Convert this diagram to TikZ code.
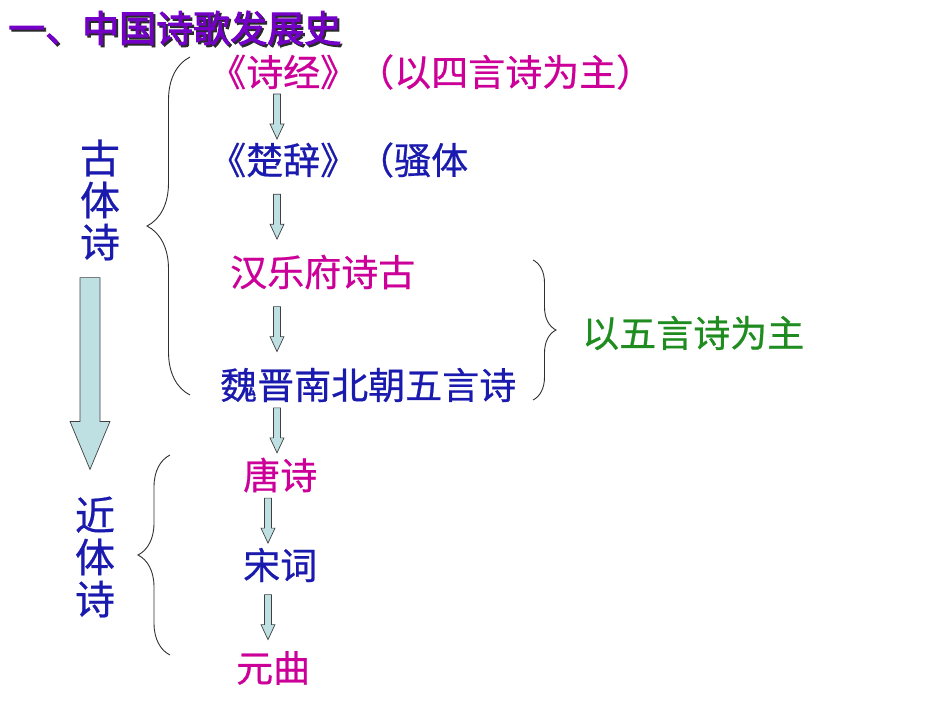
\documentclass[tikz,border=0pt]{standalone}
\usepackage{xcolor}
\usepackage{fontspec}
\usepackage{tikz}
\usetikzlibrary{calc,decorations.pathreplacing}
\newfontfamily\cjk[FakeBold=0.6]{Noto Sans CJK SC}
\newfontfamily\cjkbold[FakeBold=2.5]{Noto Sans CJK SC}
\definecolor{poemPink}{HTML}{CC0099}
\definecolor{poemBlue}{HTML}{1A1AAE}
\definecolor{poemGreen}{HTML}{1E8C1E}
\definecolor{titlePurple}{HTML}{7400C8}
\definecolor{titleShade}{HTML}{2A2A2A}
\definecolor{arrowFill}{HTML}{BEE0E2}
\definecolor{arrowLine}{HTML}{404040}
\definecolor{braceGray}{HTML}{303030}

\tikzset{
  poem/.style={font=\cjk\fontsize{37}{40}\selectfont, anchor=west, inner sep=2pt},
  hong/.style={poem, text=poemPink},
  lan/.style={poem, text=poemBlue},
  lv/.style={poem, text=poemGreen},
  shu/.style={font=\cjk\fontsize{40}{42}\selectfont, text=poemBlue, align=center, inner sep=0pt},
  biaoti/.style={font=\cjkbold\fontsize{37}{40}\selectfont, anchor=west, inner sep=0pt},
  jiantou/.style={fill=arrowFill, draw=arrowLine, line width=0.7pt, line join=miter},
  kuohao/.style={decorate, decoration={brace, amplitude=#1}, draw=braceGray, line width=0.9pt},
  kuohao/.default=30pt
}

% block arrow: top point, tip point, half shaft, half head, head length
\newcommand{\blockarrow}[5]{%
  \path[jiantou] ($#1+(-#3,0)$) -- ($#2+(-#3,-#5)$) -- ($#2+(-#4,-#5)$) -- #2
    -- ($#2+(#4,-#5)$) -- ($#2+(#3,-#5)$) -- ($#1+(#3,0)$) -- cycle;}
% small arrow between two lines of text, in column #3
\newcommand{\flowarrow}[3]{%
  \coordinate (fmid) at ($(#1.south)!0.5!(#2.north)$);
  \coordinate (ftop) at ($(fmid -| #3)+(0,-22)$);
  \coordinate (ftip) at ($(fmid -| #3)+(0,23)$);
  \blockarrow{(ftop)}{(ftip)}{3.5}{7}{15}}

\begin{document}
\begin{tikzpicture}[x=1pt,y=-1pt]
  \useasboundingbox (0,0) rectangle (950,713);

  % title
  \node[biaoti, text=titleShade] (titleshade) at (10,30) {一、中国诗歌发展史};
  \node[biaoti, text=titlePurple] (title) at (8,28) {一、中国诗歌发展史};

  % the lines
  \node[hong] (shijing) at (207,72) {《诗经》（以四言诗为主）};
  \node[lan] (chuci) at (207,160) {《楚辞》（骚体};
  \node[hong] (yuefu) at (228,272) {汉乐府诗古};
  \node[lan] (weijin) at (218,385) {魏晋南北朝五言诗};
  \node[hong] (tang) at (241,475) {唐诗};
  \node[lan] (song) at (241,565) {宋词};
  \node[hong] (yuan) at (234,668) {元曲};
  \node[lv] (wuyan) at (580,333) {以五言诗为主};

  \node[shu] (gu) at (100,200) {古\\体\\诗};
  \node[shu] (jin) at (95,557) {近\\体\\诗};

  % arrows
  \coordinate (colA) at (277,0);
  \coordinate (colB) at (268,0);
  \flowarrow{shijing}{chuci}{colA}
  \flowarrow{chuci}{yuefu}{colA}
  \flowarrow{yuefu}{weijin}{colA}
  \flowarrow{weijin}{tang}{colA}
  \flowarrow{tang}{song}{colB}
  \flowarrow{song}{yuan}{colB}

  \coordinate (bigtop) at ($(gu.south)+(-10,17)$);
  \coordinate (bigtip) at ($(jin.north)+(-5,-27)$);
  \blockarrow{(bigtop)}{(bigtip)}{10}{20}{48}

  % braces
  \draw[kuohao=43pt] (190,395) -- (190,57);
  \draw[kuohao=23pt] (533,260) -- (533,400);
  \draw[kuohao=32pt] (170,655) -- (170,455);
\end{tikzpicture}
\end{document}
